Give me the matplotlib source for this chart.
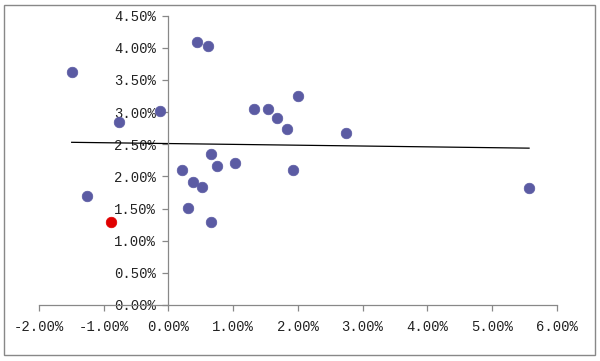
import matplotlib
matplotlib.use("Agg")
import matplotlib.pyplot as plt
import numpy as np
from matplotlib.patches import Rectangle
from matplotlib.ticker import FuncFormatter

# data (percent)
x_vals = [-1.495, -1.263, -0.759, -0.13, 0.437, 0.607, 0.215, 0.298, 0.385, 0.524,
          0.658, 0.747, 0.658, 1.034, 1.328, 1.535, 1.674, 1.828, 1.93, 2.008, 2.745, 5.573]
y_vals = [3.62, 1.695, 2.84, 3.02, 4.09, 4.03, 2.10, 1.513, 1.908, 1.83,
          2.344, 2.16, 1.286, 2.204, 3.044, 3.044, 2.904, 2.737, 2.10, 3.255, 2.67, 1.82]
hl_x = [-0.892]
hl_y = [1.295]
x_ticks = [-2, -1, 0, 1, 2, 3, 4, 5, 6]
y_ticks = [0, 0.5, 1, 1.5, 2, 2.5, 3, 3.5, 4, 4.5]

fig = plt.figure(figsize=(6, 3.61), dpi=100)
ax = fig.add_axes([39/600, 1-305/361, (556.7-39)/600, (305-15.7)/361])
ax.set_xlim(-2, 6)
ax.set_ylim(0, 4.5)

ax.scatter(x_vals, y_vals, s=58, color='#5b5ba3', edgecolors='#5b5ba3', linewidths=0.5, zorder=3)
ax.scatter(hl_x, hl_y, s=58, color='#e00000', edgecolors='#e00000', linewidths=0.5, zorder=3)

# linear trendline through all points
all_x = x_vals + hl_x
all_y = y_vals + hl_y
coef = np.polyfit(all_x, all_y, 1)
xs = np.array([min(all_x), max(all_x)])
ax.plot(xs, np.polyval(coef, xs), color='black', lw=0.9, zorder=2)

for s in ['top', 'right']:
    ax.spines[s].set_visible(False)
ax.spines['left'].set_position(('data', 0))
ax.spines['bottom'].set_position(('data', 0))
for s in ['left', 'bottom']:
    ax.spines[s].set_color('#888888')
    ax.spines[s].set_linewidth(0.9)

ax.set_xticks(x_ticks)
ax.set_yticks(y_ticks)
fmt = FuncFormatter(lambda v, p: f"{v:.2f}%")
ax.xaxis.set_major_formatter(fmt)
ax.yaxis.set_major_formatter(fmt)
ax.tick_params(axis='both', colors='#888888', labelcolor='#222222', labelsize=10,
               length=4, width=0.9, direction='out')
ax.tick_params(axis='x', pad=7)
ax.tick_params(axis='y', pad=5)
for lab in ax.get_xticklabels() + ax.get_yticklabels():
    lab.set_family('Liberation Mono')

fig.patches.append(Rectangle((4/600, 1-355/361), 591/600, 350/361, transform=fig.transFigure,
                             fill=False, edgecolor='#888888', lw=1))
fig.savefig('out.png', dpi=100)
print(coef, np.polyfit(x_vals, y_vals, 1))
